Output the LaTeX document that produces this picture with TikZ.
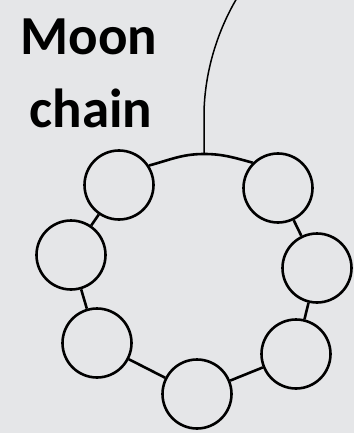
\documentclass[tikz,border=0pt]{standalone}
\usepackage{fontspec}
\setmainfont{Carlito}
\begin{document}
\begin{tikzpicture}[x=1pt,y=-1pt,
  bead/.style={circle,draw=black,line width=2.6pt,minimum size=69pt,inner sep=0pt},
  link/.style={draw=black,line width=2.6pt},
  hang/.style={draw=black,line width=1.5pt},
  lbl/.style={font=\bfseries\fontsize{55}{60}\selectfont,anchor=base,inner sep=0pt}]
\fill[fill={rgb,255:red,229;green,230;blue,232}] (0,0) rectangle (354,433);
\useasboundingbox (0,0) rectangle (354,433);
\node[lbl] (l1) at (89,55) {Moon};
\node[lbl] (l2) at (91,127) {chain};
\node[bead] (c1) at (119,185) {};
\node[bead] (c2) at (278,188) {};
\node[bead] (c3) at (71,255) {};
\node[bead] (c4) at (317,268) {};
\node[bead] (c5) at (97,343) {};
\node[bead] (c6) at (296,354) {};
\node[bead] (c7) at (197,394) {};
\coordinate (top) at (204,154);
\coordinate (bend) at (204,112);
\coordinate (end) at (237,-2);
\draw[link] (c1.33) to[out=15,in=180] (top) to[out=0,in=165] (c2.135);
\draw[link] (c1) -- (c3);
\draw[link] (c3) -- (c5);
\draw[link] (c5) -- (c7);
\draw[link] (c7) -- (c6);
\draw[link] (c6) -- (c4);
\draw[link] (c4) -- (c2);
\draw[hang] (top) -- (bend) .. controls (205,70) and (218,30) .. (end);
\end{tikzpicture}
\end{document}
